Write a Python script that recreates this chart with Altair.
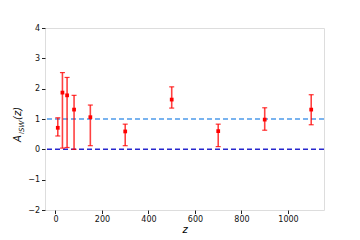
import altair as alt
import pandas as pd

z = [10, 30, 50, 80, 150, 300, 500, 700, 900, 1100]
A = [0.71, 1.87, 1.78, 1.31, 1.06, 0.59, 1.64, 0.60, 0.98, 1.31]
lo = [0.44, 0.04, 0.06, 0.00, 0.12, 0.12, 1.36, 0.09, 0.63, 0.81]
hi = [1.04, 2.53, 2.37, 1.78, 1.46, 0.83, 2.06, 0.83, 1.37, 1.80]
ref_vals = [1, 0]
ref_colors = ["#3a8fe8", "#1010c8"]
x_ticks = [0, 200, 400, 600, 800, 1000]
y_ticks = [-2, -1, 0, 1, 2, 3, 4]

df = pd.DataFrame({"z": z, "A": A, "lo": lo, "hi": hi})
refs = pd.DataFrame({"y": ref_vals, "c": ref_colors})

xs = alt.Scale(domain=[-45, 1155], nice=False, zero=False)
ys = alt.Scale(domain=[-2, 4], nice=False)

xax = alt.Axis(values=x_ticks, format="d", title="z", titleFontStyle="italic", titleFontWeight="normal",
               titleFontSize=10, titlePadding=1, labelFontSize=8, tickSize=3.5,
               tickColor="#222", labelColor="#111", domain=False, grid=False, labelPadding=2)
yax = alt.Axis(values=y_ticks, format="d", title=None, labelFontSize=8, tickSize=3.5,
               tickColor="#222", labelColor="#111", domain=False, grid=False, labelPadding=2,
               labelOverlap=False)

base = alt.Chart(df)

lines = alt.Chart(refs).mark_rule(strokeDash=[5, 3], strokeWidth=1.5, opacity=0.9).encode(
    y=alt.Y("y:Q", scale=ys, axis=yax),
    color=alt.Color("c:N", scale=None),
)

bars = base.mark_rule(color="red", strokeWidth=1.6, opacity=0.75).encode(
    x=alt.X("z:Q", scale=xs, axis=xax),
    y=alt.Y("lo:Q", scale=ys, axis=yax),
    y2="hi:Q",
)
caps_lo = base.mark_tick(color="red", orient="horizontal", size=5, thickness=1.2, opacity=0.8).encode(
    x=alt.X("z:Q", scale=xs, axis=xax), y=alt.Y("lo:Q", scale=ys, axis=yax))
caps_hi = base.mark_tick(color="red", orient="horizontal", size=5, thickness=1.2, opacity=0.8).encode(
    x=alt.X("z:Q", scale=xs, axis=xax), y=alt.Y("hi:Q", scale=ys, axis=yax))
pts = base.mark_square(color="red", size=14, opacity=1).encode(
    x=alt.X("z:Q", scale=xs, axis=xax), y=alt.Y("A:Q", scale=ys, axis=yax))

lab_A = alt.Chart(pd.DataFrame({"t": ["A"]})).mark_text(
    angle=270, align="left", baseline="alphabetic", fontSize=10, fontStyle="italic", color="#111"
).encode(text="t:N", x=alt.value(-24), y=alt.value(114))
lab_sub = alt.Chart(pd.DataFrame({"t": ["ISW"]})).mark_text(
    angle=270, align="left", baseline="alphabetic", fontSize=7, fontStyle="italic", color="#111"
).encode(text="t:N", x=alt.value(-21.5), y=alt.value(106))
lab_z = alt.Chart(pd.DataFrame({"t": ["(z)"]})).mark_text(
    angle=270, align="left", baseline="alphabetic", fontSize=10, fontStyle="italic", color="#111"
).encode(text="t:N", x=alt.value(-24), y=alt.value(92))

chart = alt.layer(lines, bars, caps_lo, caps_hi, pts, lab_A, lab_sub, lab_z).properties(
    width=279, height=182,
    autosize=alt.AutoSizeParams(type="none"),
    padding={"left": 37, "top": 20, "right": 20, "bottom": 24},
).configure_view(stroke="#8c8c8c", strokeWidth=1.6).configure(font="DejaVu Sans")

chart.save("out.html", embed_options={"renderer": "svg", "actions": False})
